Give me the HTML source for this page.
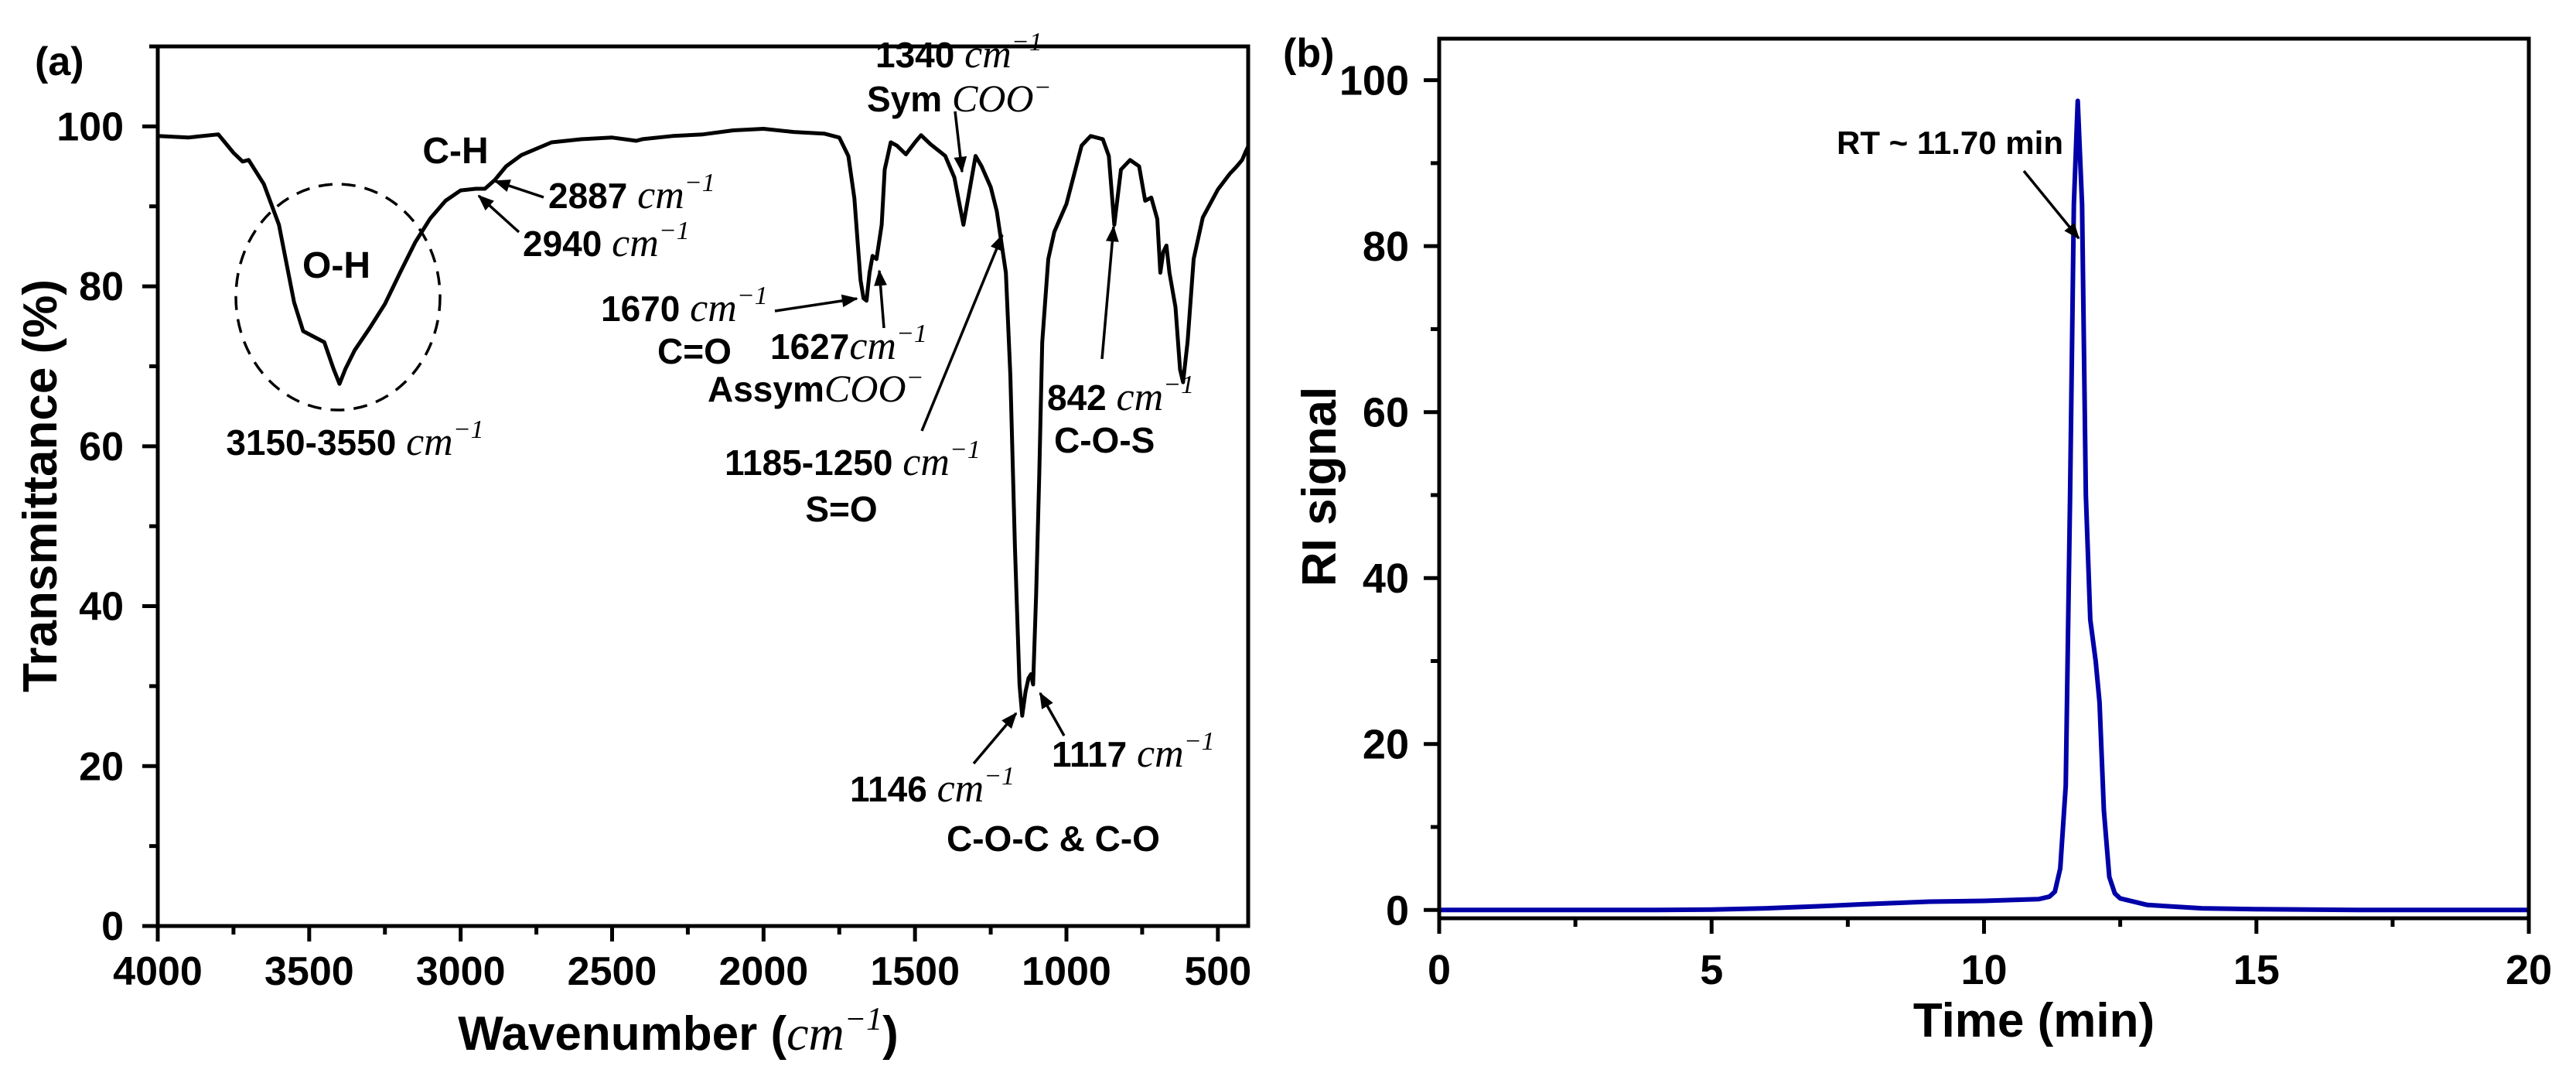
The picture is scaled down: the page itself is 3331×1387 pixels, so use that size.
<!DOCTYPE html>
<html><head><meta charset="utf-8">
<style>
html,body{margin:0;padding:0;background:#fff;}
svg{display:block;}
text{font-family:"Liberation Sans",Arial,sans-serif;font-weight:bold;fill:#000;}
.m{font-family:"Liberation Serif",serif;font-style:italic;font-weight:normal;}
</style></head>
<body>
<svg id="fig" width="3331" height="1387" viewBox="0 0 3331 1387" xmlns="http://www.w3.org/2000/svg">
<defs>
<marker id="ah" markerWidth="6" markerHeight="6" refX="5.5" refY="3" orient="auto" markerUnits="strokeWidth">
<path d="M0,0.6 L6,3 L0,5.4 Z" fill="#000"/>
</marker>
</defs>
<g id="pa"></g>
<g id="pb"></g>
</svg>
<script>
// ---- Panel (a) FTIR data ----
const irWave = [4000,3900,3800,3750,3720,3700,3650,3600,3550,3520,3500,3450,3420,3400,3380,3350,3300,3250,3200,3150,3100,3050,3000,2950,2920,2887,2850,2800,2700,2600,2500,2420,2400,2300,2200,2100,2000,1900,1800,1750,1720,1700,1690,1680,1670,1660,1650,1640,1627,1610,1600,1580,1560,1530,1500,1480,1450,1400,1370,1340,1320,1300,1280,1250,1230,1200,1185,1170,1155,1146,1135,1125,1117,1110,1100,1090,1080,1060,1040,1030,1000,950,920,880,860,842,820,790,760,740,720,700,690,680,670,660,640,625,615,600,580,550,500,460,440,420,410,400];
const irTrans = [98.8,98.6,99,96.7,95.6,95.8,92.8,87.7,78,74.4,74,73,69.7,67.8,69.7,72,74.8,77.8,81.7,85.5,88.5,90.7,92,92.2,92.2,93.3,95,96.4,98,98.4,98.6,98.2,98.4,98.8,99,99.5,99.7,99.3,99.1,98.6,96.3,91,85.8,80.8,78.5,78.2,81.7,83.8,83.4,87.7,94.6,98,97.6,96.5,98,98.9,97.8,96.3,93.6,87.7,92,96.3,95,92.4,89.4,81.7,68.8,47.4,30.2,26.3,29.3,31,31.5,30.2,41.4,56.2,73,83.4,86.8,87.7,90.3,97.6,98.8,98.4,96.3,87.7,94.6,95.8,95,90.7,91.1,88.4,81.7,84.3,85.1,81.7,77.4,69.6,68,73.1,83.4,88.6,92.1,94.1,94.9,95.8,96.7,97.5];
const irXTicks = [4000,3500,3000,2500,2000,1500,1000,500];
const irYTicks = [0,20,40,60,80,100];
// ---- Panel (b) GPC data ----
const rtTime = [0,2,4,5,6,7,8,9,10,10.5,11,11.2,11.3,11.4,11.5,11.58,11.65,11.72,11.8,11.87,11.95,12.05,12.12,12.2,12.3,12.4,12.5,13,14,15,17,20];
const rtSignal = [0,0,0,0.05,0.2,0.45,0.75,1.0,1.1,1.2,1.3,1.6,2.2,5,15,50,85,97.5,85,50,35,30,25,12,4,2,1.4,0.6,0.2,0.1,0,0];
const gpcXTicks = [0,5,10,15,20];
const gpcYTicks = [0,20,40,60,80,100];

const NS="http://www.w3.org/2000/svg";
function mk(parent,tag,attrs,txt){const e=document.createElementNS(NS,tag);for(const k in attrs)e.setAttribute(k,attrs[k]);if(txt!==undefined)e.textContent=txt;parent.appendChild(e);return e;}

// ---------- Panel A ----------
const A=document.getElementById('pa');
const aL=204,aR=1614,aT=60,aB=1197;
const ax=w=>aL+(4000-w)/(4000-400)*(aR-aL);
const ay=t=>aB-t/110*(aB-aT);
let d='';irWave.forEach((w,i)=>{d+=(i?'L':'M')+ax(w).toFixed(1)+','+ay(irTrans[i]).toFixed(1);});
const irLine=mk(A,'path',{d:d,fill:'none',stroke:'#000','stroke-width':5,'stroke-linejoin':'round'});


const aFrame=mk(A,'rect',{x:aL,y:aT,width:aR-aL,height:aB-aT,fill:'none',stroke:'#000','stroke-width':5});


for(let w=4000;w>=400;w-=250){const X=ax(w);const maj=(w%500===0);mk(A,'line',{x1:X,y1:aB,x2:X,y2:aB+(maj?20:11),stroke:'#000','stroke-width':5});}
irXTicks.forEach(w=>{const t=mk(A,'text',{x:ax(w),y:1273,'font-size':52,'text-anchor':'middle'},String(w));

});
for(let v=0;v<=110;v+=10){const Y=ay(v);const maj=(v%20===0);mk(A,'line',{x1:aL,y1:Y,x2:aL-(maj?20:11),y2:Y,stroke:'#000','stroke-width':5});}
irYTicks.forEach(v=>{const t=mk(A,'text',{x:160,y:ay(v)+18,'font-size':52,'text-anchor':'end'},String(v));

});
mk(A,'ellipse',{cx:437,cy:384,rx:132,ry:146,fill:'none',stroke:'#000','stroke-width':3.5,'stroke-dasharray':'18,12'});
function arrow(x1,y1,x2,y2){mk(A,'line',{x1,y1,x2,y2,stroke:'#000','stroke-width':3.5,'marker-end':'url(#ah)'});}
arrow(703,255,640,234);arrow(671,300,619,253);arrow(1235,144,1244,222);arrow(1002,402,1108,386);
arrow(1143,424,1137,350);arrow(1192,557,1296,304);arrow(1425,464,1440,293);arrow(1259,987,1314,922);arrow(1376,951,1345,896);
</script>
<script>
const AA=document.getElementById('pa');
AA.insertAdjacentHTML('beforeend',`
<text x="45" y="97" font-size="52">(a)</text>
<text x="589" y="211" font-size="48" text-anchor="middle">C-H</text>
<text x="435" y="359" font-size="48" text-anchor="middle">O-H</text>
<text x="459" y="588" font-size="46" text-anchor="middle">3150-3550 <tspan class="m" font-size="52">cm</tspan><tspan class="m" font-size="34" dy="-22">−1</tspan></text>
<text x="709" y="269" font-size="46">2887 <tspan class="m" font-size="52">cm</tspan><tspan class="m" font-size="34" dy="-22">−1</tspan></text>
<text x="676" y="331" font-size="46">2940 <tspan class="m" font-size="52">cm</tspan><tspan class="m" font-size="34" dy="-22">−1</tspan></text>
<text x="1132" y="87" font-size="46">1340 <tspan class="m" font-size="52">cm</tspan><tspan class="m" font-size="34" dy="-22">−1</tspan></text>
<text x="1121" y="144" font-size="46">Sym <tspan class="m" font-size="50">COO</tspan><tspan class="m" font-size="34" dy="-20">−</tspan></text>
<text x="777" y="415" font-size="46">1670 <tspan class="m" font-size="52">cm</tspan><tspan class="m" font-size="34" dy="-22">−1</tspan></text>
<text x="850" y="470" font-size="46">C=O</text>
<text x="996" y="464" font-size="46">1627<tspan class="m" font-size="52">cm</tspan><tspan class="m" font-size="34" dy="-22">−1</tspan></text>
<text x="915" y="519" font-size="46">Assym<tspan class="m" font-size="50">COO</tspan><tspan class="m" font-size="34" dy="-20">−</tspan></text>
<text x="937" y="614" font-size="46">1185-1250 <tspan class="m" font-size="52">cm</tspan><tspan class="m" font-size="34" dy="-22">−1</tspan></text>
<text x="1088" y="674" font-size="46" text-anchor="middle">S=O</text>
<text x="1354" y="530" font-size="46">842 <tspan class="m" font-size="52">cm</tspan><tspan class="m" font-size="34" dy="-22">−1</tspan></text>
<text x="1363" y="585" font-size="46">C-O-S</text>
<text x="1099" y="1036" font-size="46">1146 <tspan class="m" font-size="52">cm</tspan><tspan class="m" font-size="34" dy="-22">−1</tspan></text>
<text x="1360" y="991" font-size="46">1117 <tspan class="m" font-size="52">cm</tspan><tspan class="m" font-size="34" dy="-22">−1</tspan></text>
<text x="1224" y="1100" font-size="46">C-O-C &amp; C-O</text>
<text x="877" y="1357" font-size="62" text-anchor="middle">Wavenumber (<tspan class="m" font-size="64">cm</tspan><tspan class="m" font-size="42" dy="-26">−1</tspan><tspan dy="26">)</tspan></text>
<text x="0" y="0" font-size="62" text-anchor="middle" transform="translate(73,628) rotate(-90)">Transmittance (%)</text>
`);

// ---------- Panel B ----------
const B=document.getElementById('pb');
const bL=1861,bR=3270,bT=50,bB=1187;
const bx=t=>bL+t/20*(bR-bL);
const by=v=>bB-(v+1)/106*(bB-bT);
let d2='';rtTime.forEach((t,i)=>{d2+=(i?'L':'M')+bx(t).toFixed(1)+','+by(rtSignal[i]).toFixed(1);});
const gLine=mk(B,'path',{d:d2,fill:'none',stroke:'#0000a8','stroke-width':6,'stroke-linejoin':'round'});


const bFrame=mk(B,'rect',{x:bL,y:bT,width:bR-bL,height:bB-bT,fill:'none',stroke:'#000','stroke-width':5});


for(let t=0;t<=20;t+=2.5){const X=bx(t);const maj=(t%5===0);mk(B,'line',{x1:X,y1:bB,x2:X,y2:bB+(maj?20:11),stroke:'#000','stroke-width':5});}
gpcXTicks.forEach(t=>{const e=mk(B,'text',{x:bx(t),y:1272,'font-size':54,'text-anchor':'middle'},String(t));

});
for(let v=0;v<=100;v+=10){const Y=by(v);const maj=(v%20===0);mk(B,'line',{x1:bL,y1:Y,x2:bL-(maj?20:11),y2:Y,stroke:'#000','stroke-width':5});}
gpcYTicks.forEach(v=>{const e=mk(B,'text',{x:1822,y:by(v)+19,'font-size':54,'text-anchor':'end'},String(v));

});
mk(B,'line',{x1:2617,y1:221,x2:2688,y2:308,stroke:'#000','stroke-width':3.5,'marker-end':'url(#ah)'});
B.insertAdjacentHTML('beforeend',`
<text x="1659" y="86" font-size="52">(b)</text>
<text x="2375" y="199" font-size="42">RT ~ 11.70 min</text>
<text x="2630" y="1340" font-size="62" text-anchor="middle">Time (min)</text>
<text x="0" y="0" font-size="62" text-anchor="middle" transform="translate(1727,629) rotate(-90)">RI signal</text>
`);
</script>
</body></html>
